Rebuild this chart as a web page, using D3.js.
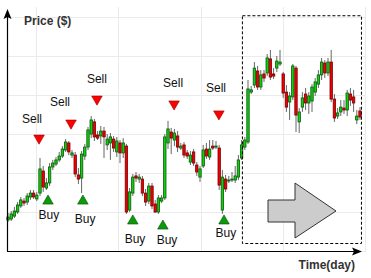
<!DOCTYPE html>
<html>
<head>
<meta charset="utf-8">
<script src="https://cdn.jsdelivr.net/npm/d3@7"></script>
<style>
  body { margin: 0; background: #fff; }
  svg { display: block; font-family: Arial, "Liberation Sans", sans-serif; }
</style>
</head>
<body>
<svg id="chart" width="371" height="278"></svg>
<script>
// candle values, one entry per day
const open = [15.9, 16.4, 17.9, 20.0, 23.1, 25.6, 25.1, 27.7, 29.7, 26.7,
    29.7, 41.0, 32.3, 34.9, 43.1, 44.6, 46.7, 48.7, 51.8, 55.4,
    49.2, 49.2, 39.0, 37.4, 48.7, 53.3, 60.0, 66.2, 59.5, 59.0,
    61.5, 54.4, 55.4, 57.4, 50.8, 55.4, 50.3, 53.8, 21.0, 29.7,
    38.5, 36.9, 36.9, 29.7, 25.6, 33.3, 24.1, 20.0, 25.6, 27.2,
    55.4, 61.0, 56.9, 59.0, 52.8, 54.4, 50.3, 45.6, 50.8, 44.1,
    37.9, 43.6, 52.3, 48.2, 53.8, 53.3, 52.8, 21.0, 36.9, 35.9,
    36.4, 36.4, 37.9, 47.7, 53.3, 55.9, 81.5, 85.1, 92.3, 84.1,
    90.8, 91.3, 98.5, 90.8, 93.8, 95.9, 90.8, 81.5, 76.4, 79.0,
    93.8, 66.2, 73.8, 80.5, 75.9, 76.9, 81.5, 85.6, 90.3, 96.4,
    91.3, 96.9, 77.9, 69.2, 71.3, 73.3, 72.3, 80.5, 79.0, 67.2,
    71.8];
const high = [19.5, 20.5, 22.6, 25.1, 27.7, 27.2, 29.7, 31.3, 31.3, 30.3,
    47.7, 43.6, 37.4, 45.1, 46.7, 48.2, 50.8, 53.8, 57.4, 56.4,
    51.8, 50.8, 42.6, 51.3, 54.9, 63.6, 69.2, 67.7, 61.5, 64.1,
    63.6, 60.0, 60.5, 59.0, 58.5, 56.9, 57.9, 54.9, 32.3, 39.5,
    40.5, 39.5, 38.5, 31.8, 34.9, 34.9, 26.2, 28.7, 28.7, 60.0,
    66.7, 63.1, 62.6, 61.5, 55.4, 55.9, 51.8, 51.3, 52.3, 45.6,
    43.6, 54.4, 55.4, 56.9, 56.9, 56.4, 54.4, 41.5, 39.0, 38.5,
    40.5, 43.6, 49.2, 56.9, 58.5, 87.7, 84.6, 96.9, 94.9, 92.8,
    92.8, 101.0, 103.1, 93.8, 100.0, 103.1, 91.8, 85.1, 81.5, 95.9,
    94.9, 73.3, 81.5, 83.6, 81.5, 85.6, 88.7, 92.8, 99.0, 97.9,
    99.0, 103.1, 80.5, 73.3, 77.4, 77.4, 82.6, 83.6, 82.6, 72.3,
    73.8];
const low = [14.9, 15.4, 16.9, 19.0, 22.1, 23.1, 23.6, 26.2, 26.7, 25.6,
    28.2, 30.3, 31.3, 33.3, 41.5, 43.6, 45.6, 47.7, 50.8, 49.2,
    47.7, 37.9, 34.4, 29.7, 46.7, 51.8, 57.9, 56.4, 56.9, 54.9,
    47.7, 51.8, 46.7, 50.8, 48.2, 45.1, 47.7, 19.0, 20.0, 28.2,
    35.4, 34.9, 28.2, 23.1, 24.1, 21.5, 19.5, 19.0, 24.6, 26.2,
    52.3, 49.7, 53.8, 50.8, 51.8, 47.7, 47.2, 44.1, 43.6, 38.5,
    35.4, 42.6, 47.2, 46.7, 51.8, 52.3, 31.3, 19.0, 30.3, 34.9,
    35.4, 34.9, 36.4, 46.7, 51.8, 54.9, 80.5, 83.6, 82.6, 82.6,
    86.7, 89.7, 87.7, 88.2, 91.8, 94.9, 78.5, 71.3, 67.2, 77.4,
    61.0, 60.5, 71.3, 72.3, 70.3, 71.3, 79.5, 83.6, 87.7, 88.7,
    89.7, 76.4, 66.2, 67.7, 69.2, 70.3, 69.2, 74.4, 71.3, 65.1,
    67.2];
const close = [17.4, 19.0, 20.5, 23.6, 26.2, 24.6, 28.2, 29.7, 27.7, 28.7,
    42.1, 32.8, 34.9, 43.1, 45.1, 46.7, 48.7, 52.3, 55.9, 50.8,
    50.3, 39.5, 36.9, 49.7, 53.3, 62.1, 67.2, 58.5, 57.9, 61.5,
    58.5, 57.4, 58.5, 52.8, 56.4, 50.3, 55.4, 20.0, 30.3, 37.9,
    37.4, 37.9, 29.7, 25.1, 33.3, 23.1, 20.0, 27.2, 27.2, 58.5,
    62.6, 57.9, 60.5, 53.3, 53.8, 49.2, 48.7, 49.2, 45.1, 40.5,
    42.1, 51.8, 48.7, 52.3, 52.8, 53.8, 33.8, 37.9, 31.8, 36.4,
    36.9, 38.5, 46.7, 54.4, 56.9, 83.1, 82.6, 93.8, 84.1, 90.3,
    88.7, 99.0, 89.2, 89.7, 97.4, 96.9, 81.0, 73.8, 79.5, 94.9,
    69.7, 71.3, 78.5, 75.9, 79.5, 84.1, 86.7, 90.3, 96.9, 91.3,
    96.9, 77.9, 68.2, 70.8, 73.8, 72.3, 81.0, 77.4, 75.9, 69.2,
    68.7];

// trade signals: day index and price level of the marker
const sellDay = [9.7, 19.7, 27.8, 51.9, 65.9];
const sellPrice = [57.9, 65.6, 77.9, 75.4, 70.3];
const sellLabelDay = [7.5, 16.25, 27.8, 51.6, 65.0];
const sellLabelPrice = [65.6, 74.4, 86.2, 84.1, 81.5];
const buyDay = [12.5, 23.4, 39.0, 48.4, 67.5];
const buyPrice = [25.6, 25.6, 15.4, 12.8, 15.4];
const buyLabelDay = [12.8, 24.1, 39.7, 49.7, 68.1];
const buyLabelPrice = [16.4, 14.4, 4.1, 3.6, 7.2];

// highlighted forecast window (days / price)
const zoneDays = [73.1, 110.3];
const zonePrice = [4.1, 120.9];

const candles = open.map((o, i) => ({ i, o, h: high[i], l: low[i], c: close[i] }));

const svg = d3.select('#chart');
const x = d3.scaleLinear().domain([0, 110]).range([8, 360]);
const y = d3.scaleLinear().domain([0, 120]).range([251, 17]);

// grid
const grid = svg.append('g').attr('stroke', '#ebebeb').attr('stroke-width', 1);
grid.selectAll('line.h')
    .data(y.ticks(6))
    .join('line')
    .attr('class', 'h')
    .attr('x1', 7).attr('x2', 366)
    .attr('y1', d => Math.round(y(d)) + 0.5).attr('y2', d => Math.round(y(d)) + 0.5);
const gx = d3.scaleLinear().domain([0, 4]).range([36, 365]);
grid.selectAll('line.v')
    .data(d3.range(5))
    .join('line')
    .attr('class', 'v')
    .attr('y1', 7).attr('y2', 251)
    .attr('x1', d => Math.round(gx(d)) + 0.5).attr('x2', d => Math.round(gx(d)) + 0.5);

// candles
const bw = 2.4;
const cg = svg.append('g');
cg.selectAll('line')
    .data(candles)
    .join('line')
    .attr('x1', d => x(d.i)).attr('x2', d => x(d.i))
    .attr('y1', d => y(d.h)).attr('y2', d => y(d.l))
    .attr('stroke', '#666')
    .attr('stroke-width', 1);
cg.selectAll('rect')
    .data(candles)
    .join('rect')
    .attr('x', d => x(d.i) - bw / 2)
    .attr('width', bw)
    .attr('y', d => y(Math.max(d.o, d.c)))
    .attr('height', d => Math.max(1, Math.abs(y(d.o) - y(d.c))))
    .attr('fill', d => d.c >= d.o ? '#11cc11' : '#ee0000')
    .attr('stroke', d => d.c >= d.o ? '#0b5a0b' : '#7a0000')
    .attr('stroke-width', 0.8);

// dashed window
svg.append('rect')
    .attr('x', x(zoneDays[0]) + 0.5)
    .attr('y', y(zonePrice[1]) + 0.5)
    .attr('width', x(zoneDays[1]) - x(zoneDays[0]))
    .attr('height', y(zonePrice[0]) - y(zonePrice[1]))
    .attr('fill', 'none')
    .attr('stroke', '#000')
    .attr('stroke-width', 1)
    .attr('stroke-dasharray', '3,2');

// big grey arrow inside the window
const ax0 = 268, ay = 211;
svg.append('path')
    .attr('d', `M${ax0},${ay - 11}L${ax0 + 27},${ay - 11}L${ax0 + 27},${ay - 28}L${ax0 + 68},${ay}` +
        `L${ax0 + 27},${ay + 27}L${ax0 + 27},${ay + 11}L${ax0},${ay + 11}Z`)
    .attr('fill', '#cccccc')
    .attr('stroke', '#333')
    .attr('stroke-width', 1);

// signals
const tri = d3.symbol(d3.symbolTriangle, 48);
svg.append('g').selectAll('path')
    .data(sellDay)
    .join('path')
    .attr('d', tri)
    .attr('transform', (d, i) => `translate(${x(d)},${y(sellPrice[i])}) rotate(180)`)
    .attr('fill', '#ff0000')
    .attr('stroke', '#990000')
    .attr('stroke-width', 0.6);
svg.append('g').selectAll('path')
    .data(buyDay)
    .join('path')
    .attr('d', tri)
    .attr('transform', (d, i) => `translate(${x(d)},${y(buyPrice[i])})`)
    .attr('fill', '#0a9a0a')
    .attr('stroke', '#064d06')
    .attr('stroke-width', 0.6);

const labels = svg.append('g').attr('font-size', 12).attr('fill', '#111').attr('text-anchor', 'middle');
labels.selectAll('text.sell')
    .data(sellLabelDay)
    .join('text')
    .attr('class', 'sell')
    .attr('x', d => x(d))
    .attr('y', (d, i) => y(sellLabelPrice[i]))
    .text('Sell');
labels.selectAll('text.buy')
    .data(buyLabelDay)
    .join('text')
    .attr('class', 'buy')
    .attr('x', d => x(d))
    .attr('y', (d, i) => y(buyLabelPrice[i]))
    .text('Buy');

// axes with arrow heads
const axes = svg.append('g');
axes.append('line').attr('x1', 7.5).attr('x2', 7.5).attr('y1', 251).attr('y2', 16)
    .attr('stroke', '#000').attr('stroke-width', 1.2);
axes.append('line').attr('x1', 7).attr('x2', 355).attr('y1', 251.5).attr('y2', 251.5)
    .attr('stroke', '#000').attr('stroke-width', 1.2);
axes.append('path').attr('d', 'M7.5,9L11.5,19L7.5,17L3.5,19Z').attr('fill', '#000');
axes.append('path').attr('d', 'M362,251.5L352,247.5L354,251.5L352,255.5Z').attr('fill', '#000');

svg.append('text').attr('x', 24).attr('y', 25)
    .attr('font-size', 12).attr('font-weight', 'bold').attr('fill', '#333')
    .text('Price ($)');
svg.append('text').attr('x', 355).attr('y', 269).attr('text-anchor', 'end')
    .attr('font-size', 12).attr('font-weight', 'bold').attr('fill', '#333')
    .text('Time(day)');
</script>
</body>
</html>
